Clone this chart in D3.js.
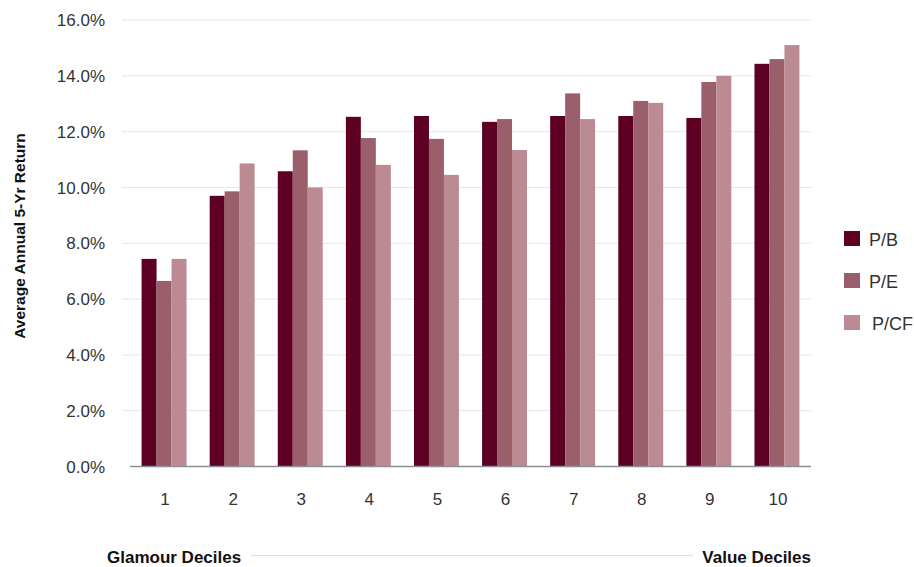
<!DOCTYPE html>
<html><head><meta charset="utf-8">
<script src="https://cdn.jsdelivr.net/npm/d3@7"></script>
<style>
body{margin:0;background:#fff;}
text{font-family:"Liberation Sans",Arial,sans-serif;}
</style></head>
<body><svg id="c" width="914" height="567"></svg>
<script>
const categories = ["1","2","3","4","5","6","7","8","9","10"];
const seriesNames = ["P/B","P/E","P/CF"];
const seriesColors = ["#5e0024","#9b5f6c","#bb8a92"];
const pbValues = [7.44, 9.70, 10.58, 12.53, 12.56, 12.35, 12.56, 12.56, 12.49, 14.43];
const peValues = [6.65, 9.86, 11.33, 11.77, 11.74, 12.45, 13.37, 13.10, 13.78, 14.60];
const pcfValues = [7.44, 10.86, 10.00, 10.81, 10.45, 11.34, 12.45, 13.03, 14.00, 15.10];
const yTicks = [0,2,4,6,8,10,12,14,16];
const yTitle = "Average Annual 5-Yr Return";
const leftLabel = "Glamour Deciles";
const rightLabel = "Value Deciles";

const allSeries = [pbValues, peValues, pcfValues];
const svg = d3.select("#c");
const x0 = d3.scaleBand().domain(categories).range([130, 811]).paddingInner(0.34).paddingOuter(0.17);
const x1 = d3.scaleBand().domain(seriesNames).range([0, x0.bandwidth()]);
const y = d3.scaleLinear().domain([0,16]).range([466.5, 20]);

// gridlines
svg.append("g").selectAll("line").data(yTicks.filter(d=>d>0)).join("line")
  .attr("x1",122).attr("x2",811)
  .attr("y1",d=>y(d)).attr("y2",d=>y(d))
  .attr("stroke","#e6e6e6").attr("stroke-width",1);

// y tick labels
svg.append("g").selectAll("text").data(yTicks).join("text")
  .attr("x",105).attr("y",d=>y(d)).attr("dy","0.36em")
  .attr("text-anchor","end").attr("font-size",17).attr("fill","#333")
  .text(d=>d3.format(".1f")(d)+"%");

// bars
const groups = svg.append("g").selectAll("g").data(categories).join("g")
  .attr("transform",d=>`translate(${x0(d)},0)`);
groups.selectAll("rect").data((d,i)=>seriesNames.map((s,j)=>({s,j,v:allSeries[j][i]}))).join("rect")
  .attr("x",d=>x1(d.s)).attr("width",x1.bandwidth())
  .attr("y",d=>y(d.v)).attr("height",d=>y(0)-y(d.v))
  .attr("fill",d=>seriesColors[d.j]);

// x axis line
svg.append("line").attr("x1",130).attr("x2",811).attr("y1",y(0)).attr("y2",y(0))
  .attr("stroke","#8a8e99").attr("stroke-width",1.5);

// x tick labels
svg.append("g").selectAll("text").data(categories).join("text")
  .attr("x",d=>x0(d)+x0.bandwidth()/2+1).attr("y",505)
  .attr("text-anchor","middle").attr("font-size",17).attr("fill","#333")
  .text(d=>d);

// y title
svg.append("text").attr("transform","translate(25,236) rotate(-90)")
  .attr("text-anchor","middle").attr("font-size",15.5).attr("font-weight","bold").attr("fill","#111")
  .text(yTitle);

// bottom labels
svg.append("text").attr("x",107).attr("y",563).attr("font-size",17).attr("font-weight","bold").attr("fill","#111").text(leftLabel);
svg.append("text").attr("x",811).attr("y",563).attr("text-anchor","end").attr("font-size",17).attr("font-weight","bold").attr("fill","#111").text(rightLabel);
svg.append("line").attr("x1",251).attr("x2",693).attr("y1",555.5).attr("y2",555.5).attr("stroke","#dddddd").attr("stroke-width",1);

// legend
const leg = svg.append("g").selectAll("g").data(seriesNames).join("g")
  .attr("transform",(d,i)=>`translate(844,${231 + i*42})`);
leg.append("rect").attr("width",16).attr("height",15).attr("fill",(d,i)=>seriesColors[i]);
leg.append("text").attr("x",(d,i)=>i===2?28:25).attr("y",15)
  .attr("font-size",18).attr("fill","#333").text(d=>d);
</script></body></html>
